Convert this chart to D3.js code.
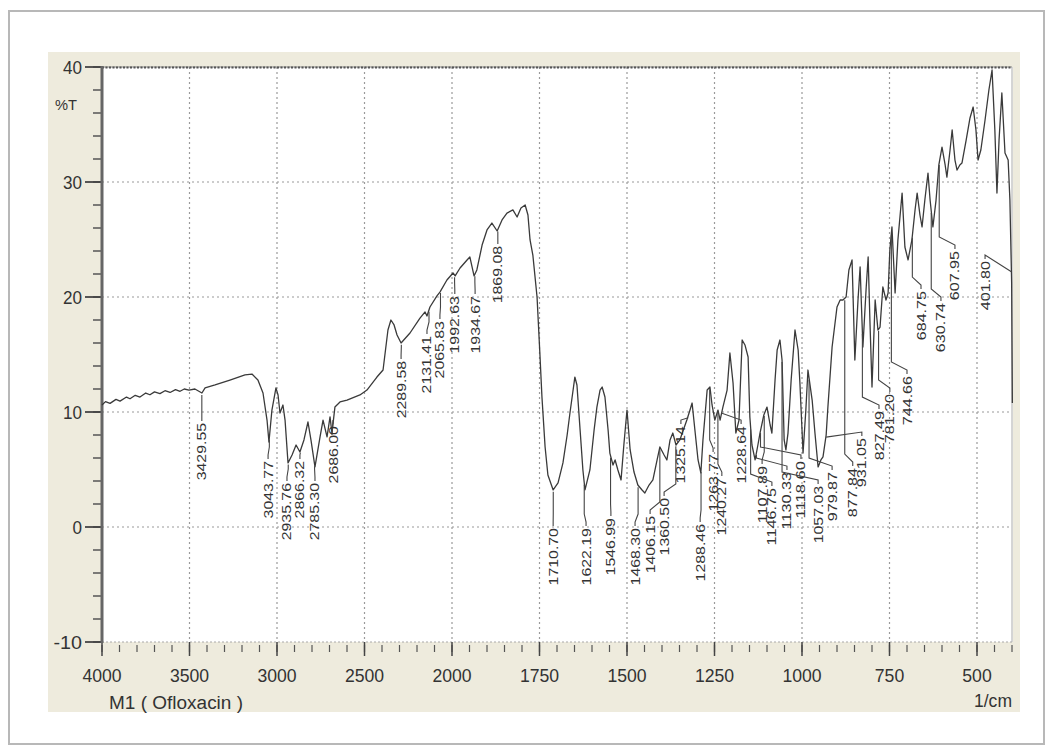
<!DOCTYPE html>
<html><head><meta charset="utf-8">
<script src="https://cdn.jsdelivr.net/npm/d3@7"></script>
<style>
html,body{margin:0;padding:0;background:#fff;}
svg{display:block;}
text{font-family:"Liberation Sans Narrow","Arial Narrow","Liberation Sans",Arial,sans-serif;fill:#333;}
</style></head>
<body>
<svg id="chart" width="1048" height="747"></svg>
<script>
// ---- data ----
const wavenumber = [4000,3980,3954,3920,3897,3860,3840,3810,3783,3750,3726,3700,3669,3640,3611,3580,3554,3530,3503,3469,3429,3411,3354,3269,3183,3143,3109,3080,3057,3046,3029,3006,2994,2983,2966,2954,2937,2914,2891,2869,2846,2823,2806,2783,2754,2737,2714,2697,2686,2669,2640,2600,2526,2486,2429,2394,2366,2349,2331,2314,2291,2240,2183,2154,2143,2126,2086,2069,2029,1997,1991,1977,1957,1949,1937,1929,1914,1900,1886,1871,1857,1843,1826,1814,1803,1791,1783,1777,1769,1757,1749,1743,1734,1726,1711,1697,1683,1671,1663,1654,1649,1643,1634,1626,1620,1606,1594,1586,1577,1571,1563,1554,1549,1540,1534,1526,1517,1509,1500,1491,1480,1469,1457,1449,1437,1426,1414,1406,1394,1386,1377,1369,1360,1349,1337,1329,1320,1314,1306,1297,1289,1283,1271,1263,1257,1249,1240,1234,1226,1214,1206,1197,1189,1180,1171,1163,1154,1149,1143,1134,1126,1120,1109,1100,1091,1086,1077,1071,1063,1057,1051,1046,1040,1031,1020,1011,1006,997,989,983,971,963,954,946,940,931,926,914,900,891,883,874,866,857,849,840,834,826,817,811,806,800,791,783,777,769,760,754,749,743,734,726,714,706,697,686,677,671,663,657,649,640,634,626,617,609,600,591,586,577,571,563,557,549,543,531,520,511,503,497,489,477,466,457,449,443,437,429,420,411,406,401,399];
const transmittance = [10.61,10.9,10.75,11.1,10.95,11.3,11.15,11.45,11.3,11.65,11.5,11.75,11.6,11.85,11.7,11.95,11.8,12.0,11.9,12.0,11.65,12.09,12.35,12.78,13.22,13.30,12.78,11.65,9.30,7.39,10.17,12.09,11.48,9.91,10.61,9.30,5.57,6.26,7.13,6.52,7.57,9.13,7.57,5.22,7.83,9.30,7.83,9.57,8.17,10.43,10.87,11.04,11.48,11.91,13.04,13.65,17.13,18.0,17.57,16.70,16.0,16.87,18.17,18.70,18.35,19.13,20.09,20.43,21.48,22.09,21.83,22.52,23.22,23.48,21.83,22.35,24.52,25.83,26.43,25.74,26.70,27.30,27.57,26.96,27.74,28.0,27.13,24.96,23.65,20.0,15.13,11.30,6.96,4.52,3.22,3.83,5.57,8.0,9.91,11.91,13.04,12.35,8.43,4.96,3.22,4.96,8.43,10.43,11.91,12.17,11.30,8.43,6.43,5.39,5.83,4.96,4.09,7.13,10.17,6.70,4.78,3.65,3.22,2.96,3.65,4.09,5.83,6.96,6.26,5.83,7.57,8.17,7.13,7.57,8.61,9.30,10.17,10.78,8.43,5.83,4.70,7.57,11.91,12.17,10.61,9.30,10.17,9.30,10.43,11.91,15.13,12.52,8.17,9.30,16.26,15.83,14.78,9.57,7.13,5.83,7.13,8.17,9.74,10.43,8.87,8.17,12.78,15.39,16.26,14.52,7.57,6.70,8.17,12.78,17.13,15.39,12.52,6.43,10.17,13.65,11.04,8.17,5.22,5.83,6.09,8.0,10.43,15.65,19.13,19.74,19.74,20.0,22.35,23.22,14.52,19.74,22.61,15.65,20.61,23.48,18.0,12.17,19.74,17.13,17.39,20.87,19.74,20.35,24.09,26.09,20.35,24.96,29.04,24.35,23.22,24.96,27.57,29.04,27.13,26.09,28.43,30.78,28.43,26.09,28.43,31.48,33.04,31.48,30.43,32.78,34.52,31.91,31.04,31.48,31.65,33.65,35.57,36.52,34.52,31.91,32.78,35.39,38.0,39.74,34.52,29.04,33.65,37.74,32.52,31.91,28.43,21.22,10.78];

const xTickValues = [4000,3500,3000,2500,2000,1750,1500,1250,1000,750,500];
const xTickLabels = ["4000","3500","3000","2500","2000","1750","1500","1250","1000","750","500"];
const yTickValues = [-10,0,10,20,30,40];
const yTickLabels = ["-10","0","10","20","30","40"];

const peakWavenumbers = [3429.55,3043.77,2935.76,2866.32,2785.30,2686.00,2289.58,2131.41,2065.83,1992.63,1934.67,1869.08,1710.70,1622.19,1546.99,1468.30,1406.15,1360.50,1325.14,1288.46,1263.77,1240.27,1228.64,1107.89,1146.75,1130.33,1118.60,1057.03,979.87,931.05,877.84,827.49,781.20,744.66,684.75,630.74,607.95,401.80];
const peakLabels = ["3429.55","3043.77","2935.76","2866.32","2785.30","2686.00","2289.58","2131.41","2065.83","1992.63","1934.67","1869.08","1710.70","1622.19","1546.99","1468.30","1406.15","1360.50","1325.14","1288.46","1263.77","1240.27","1228.64","1107.89","1146.75","1130.33","1118.60","1057.03","979.87","931.05","877.84","827.49","781.20","744.66","684.75","630.74","607.95","401.80"];

// label placement (data space): wavenumber of label, %T at label top
const labelWavenumber = [3429.55,3051,2943,2869,2783,2680,2291,2143,2069,1992,1934,1869,1711,1617,1546,1477,1434,1394,1346,1291,1254,1229,1174,1114,1086,1043,1003,954,914,829,855,780,749,700,660,603,563,477];
const labelTopT = [9.57,6.26,4.35,6.26,4.35,9.3,14.96,17.13,18.43,20.6,20.6,24.96,0.43,0.43,1.3,0.43,1.48,3.04,9.3,0.78,6.87,4.78,9.3,5.83,3.91,5.3,6.26,4.09,5.3,8.26,5.65,10.6,12.09,13.65,21.04,20.0,24.52,23.65];

const xAxisTitle = "1/cm";
const yAxisTitle = "%T";
const sampleTitle = "M1  ( Ofloxacin )";

// ---- drawing ----
const svg = d3.select("#chart");
const x = d3.scaleLinear().domain([4000, 2000, 400]).range([102, 452, 1012]);
const y = d3.scaleLinear().domain([-10, 40]).range([642, 67]);

svg.append("rect").attr("x",9).attr("y",11).attr("width",1035).attr("height",733)
  .attr("fill","#fff").attr("stroke","#b8b8b8").attr("stroke-width",2);
svg.append("rect").attr("x",48).attr("y",52).attr("width",972).attr("height",660).attr("fill","#eeebdd");
svg.append("rect").attr("x",x(4000)).attr("y",y(40)).attr("width",x(400)+1-x(4000)).attr("height",y(-10)-y(40)).attr("fill","#fff");

const g = svg.append("g");
const gridX = xTickValues.filter(v => v !== 4000);
g.selectAll(".gx").data(gridX).join("line")
  .attr("x1", d => x(d)).attr("x2", d => x(d)).attr("y1", y(40)).attr("y2", y(-10))
  .attr("stroke","#9a9a9a").attr("stroke-width",1.2).attr("stroke-dasharray","2,3");
g.selectAll(".gy").data(yTickValues.filter(v => v > -10 && v < 40)).join("line")
  .attr("x1", x(4000)).attr("x2", x(400)).attr("y1", d => y(d)).attr("y2", d => y(d))
  .attr("stroke","#9a9a9a").attr("stroke-width",1.2).attr("stroke-dasharray","2,3");

svg.append("line").attr("x1",x(4000)).attr("x2",x(400)).attr("y1",y(40)).attr("y2",y(40))
  .attr("stroke","#888").attr("stroke-width",1);
svg.append("line").attr("x1",x(4000)).attr("x2",x(400)).attr("y1",y(40)+0.5).attr("y2",y(40)+0.5)
  .attr("stroke","#555").attr("stroke-width",2.2).attr("stroke-dasharray","2,1.5");
svg.append("line").attr("x1",x(4000)).attr("x2",x(400)).attr("y1",y(-10)).attr("y2",y(-10))
  .attr("stroke","#aaa").attr("stroke-width",1.2).attr("stroke-dasharray","2,2");
svg.append("line").attr("x1",x(400)).attr("x2",x(400)).attr("y1",y(40)).attr("y2",y(-10))
  .attr("stroke","#aaa").attr("stroke-width",1);

const minorX = d3.range(4000, 2000, -100).concat(d3.range(2000, 399, -50));
svg.selectAll(".mx").data(minorX).join("line")
  .attr("x1", d => x(d)).attr("x2", d => x(d)).attr("y1", y(-10)+3).attr("y2", y(-10)+10)
  .attr("stroke","#555").attr("stroke-width",1.2);
svg.selectAll(".Mx").data(xTickValues).join("line")
  .attr("x1", d => x(d)).attr("x2", d => x(d)).attr("y1", y(-10)).attr("y2", y(-10)+14)
  .attr("stroke","#444").attr("stroke-width",1.5);
svg.selectAll(".xl").data(xTickValues).join("text")
  .attr("x", d => x(d)).attr("y", y(-10)+40).attr("text-anchor","middle")
  .attr("font-size",19).attr("textLength",(d,i)=> xTickLabels[i].length*9.8).attr("lengthAdjust","spacingAndGlyphs")
  .text((d,i) => xTickLabels[i]);

const minorY = d3.range(-10, 40.1, 2);
svg.selectAll(".my").data(minorY).join("line")
  .attr("x1", x(4000)-9).attr("x2", x(4000)).attr("y1", d => y(d)).attr("y2", d => y(d))
  .attr("stroke","#555").attr("stroke-width",1.5);
svg.selectAll(".My").data(yTickValues).join("line")
  .attr("x1", x(4000)-17).attr("x2", x(4000)).attr("y1", d => y(d)).attr("y2", d => y(d))
  .attr("stroke","#444").attr("stroke-width",1.8);
svg.selectAll(".yl").data(yTickValues).join("text")
  .attr("x", x(4000)-20).attr("y", d => y(d)+7).attr("text-anchor","end")
  .attr("font-size",19).attr("textLength",(d,i)=> yTickLabels[i].length*9.5).attr("lengthAdjust","spacingAndGlyphs")
  .text((d,i) => yTickLabels[i]);
svg.append("line").attr("x1",x(4000)).attr("x2",x(4000)).attr("y1",y(40)-1).attr("y2",y(-10)+1)
  .attr("stroke","#666").attr("stroke-width",3);

svg.append("text").attr("x",x(4000)-47).attr("y",y(36.3)).attr("font-size",15)
  .attr("textLength",22).attr("lengthAdjust","spacingAndGlyphs").text(yAxisTitle);
svg.append("text").attr("x",x(400)).attr("y",y(-10)+65).attr("text-anchor","end").attr("font-size",18)
  .attr("textLength",38).attr("lengthAdjust","spacingAndGlyphs").text(xAxisTitle);
svg.append("text").attr("x",x(3960)).attr("y",y(-10)+67).attr("font-size",18)
  .attr("textLength",134).attr("lengthAdjust","spacingAndGlyphs").text(sampleTitle);

const pts = wavenumber.map((w,i) => [w, transmittance[i]]);
svg.append("path").datum(pts)
  .attr("d", d3.line().x(d => x(d[0])).y(d => y(d[1])))
  .attr("fill","none").attr("stroke","#3a3a3a").attr("stroke-width",1.3).attr("stroke-linejoin","round");

function tAt(w){
  for (let i=0;i<wavenumber.length-1;i++){
    const a=wavenumber[i], b=wavenumber[i+1];
    if (w<=a && w>=b){ const t=(a-w)/(a-b); return transmittance[i]+(transmittance[i+1]-transmittance[i])*t; }
  }
  return transmittance[transmittance.length-1];
}
const lab = svg.append("g");
peakWavenumbers.forEach((pw,i) => {
  const px = x(pw), py = y(tAt(pw)) + 2;
  const lx = x(labelWavenumber[i]), ly = y(labelTopT[i]);
  const mid = Math.max(py, ly - 8);
  lab.append("path").attr("d", `M${px},${py}L${px},${mid}L${lx},${ly}L${lx},${ly+4}`)
    .attr("fill","none").attr("stroke","#444").attr("stroke-width",1.1);
  lab.append("text").attr("transform", `translate(${lx+4.5},${ly+6}) rotate(-90)`)
    .attr("text-anchor","end").attr("font-size",13)
    .attr("textLength", peakLabels[i].length*8.2).attr("lengthAdjust","spacingAndGlyphs")
    .text(peakLabels[i]);
});
</script>
</body></html>
